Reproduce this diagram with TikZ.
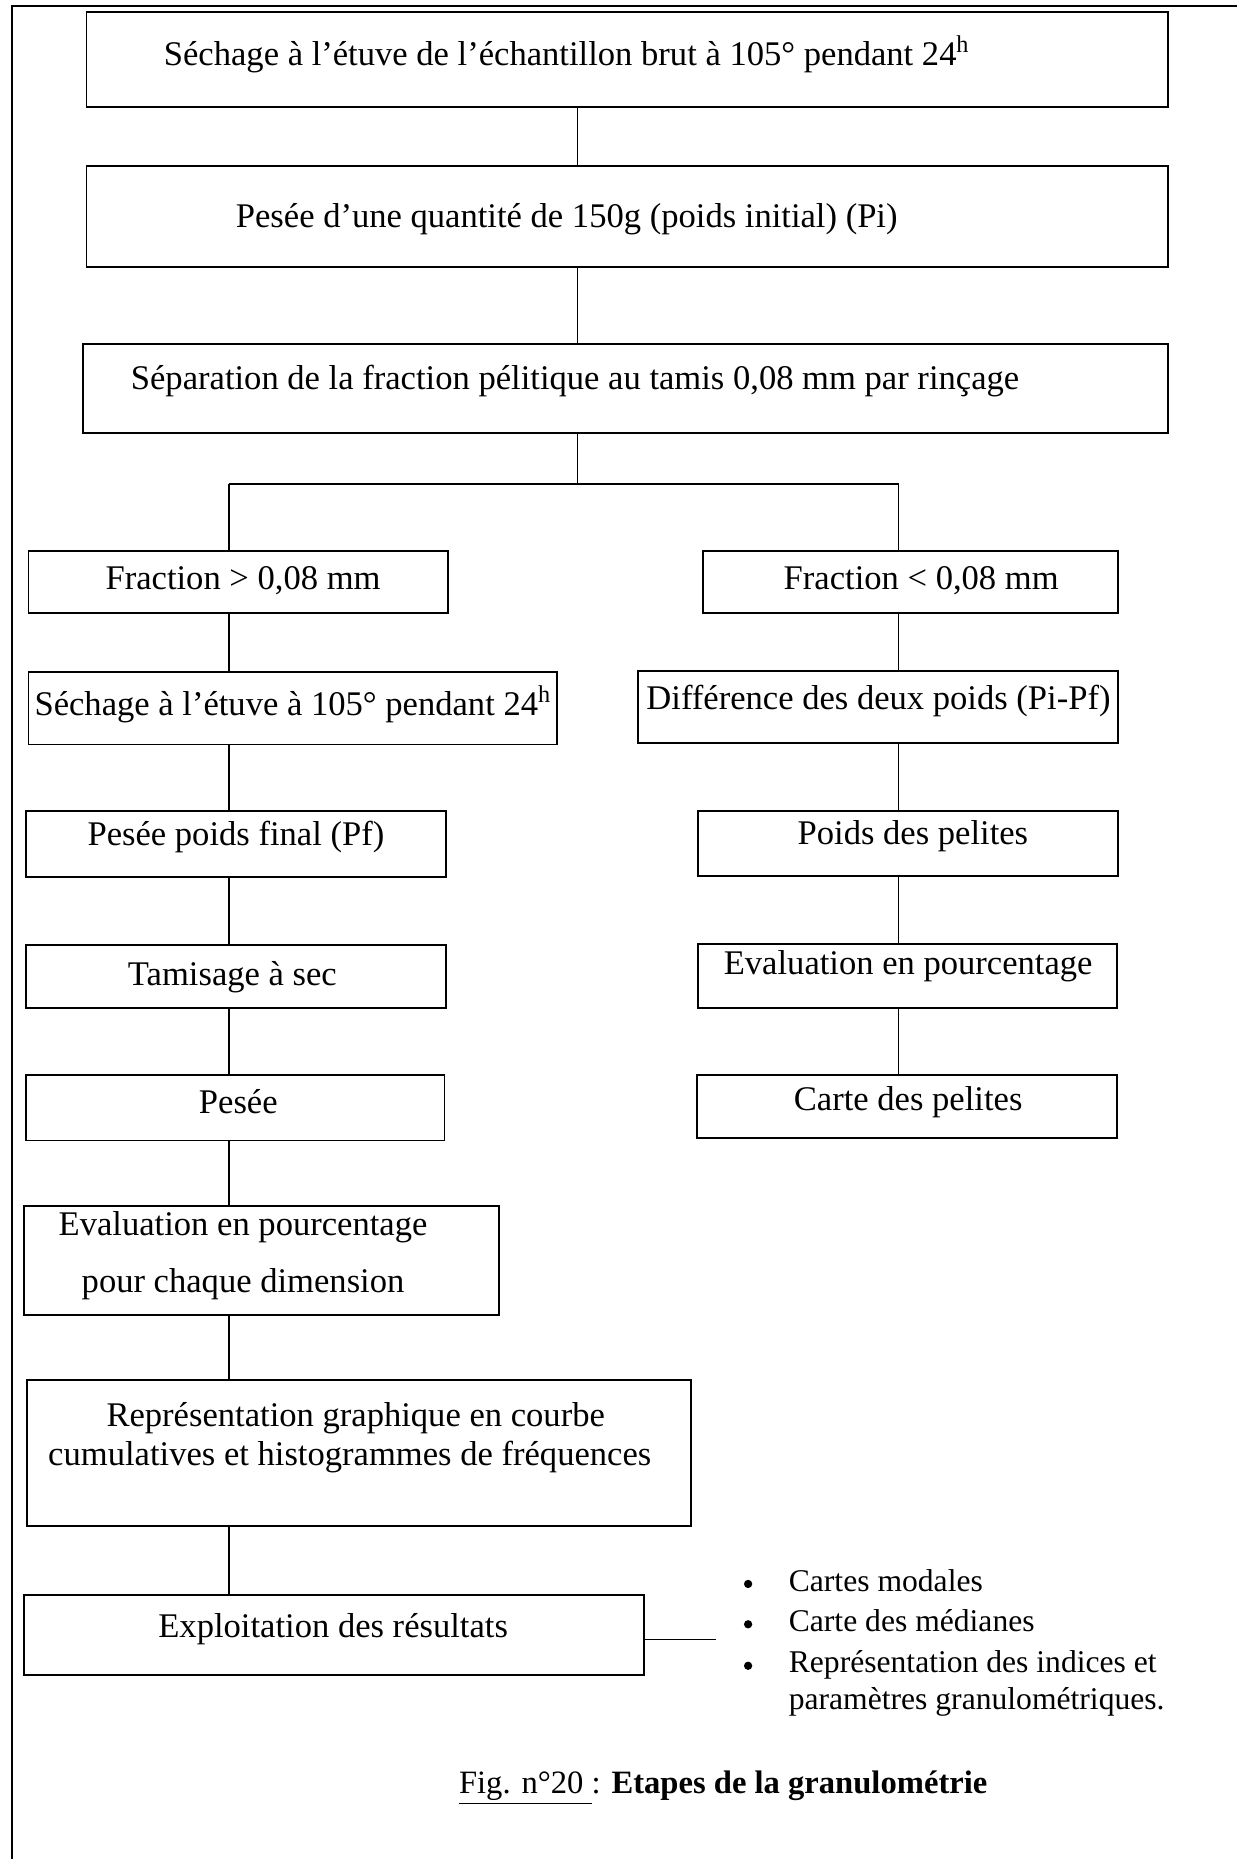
\documentclass[tikz,border=0pt]{standalone}
\usepackage{fontspec}
\setmainfont{Liberation Serif}
\tikzset{
  box/.style={draw, line width=0.9pt, rectangle, inner sep=0pt},
  txt/.style={font=\fontsize{17.5}{21}\selectfont, inner sep=0pt, align=center},
  bul/.style={font=\fontsize{16}{19.5}\selectfont, inner sep=0pt, anchor=base west},
  dotbul/.style={circle, fill, inner sep=0pt, minimum size=4.2pt},
  link/.style={line width=0.8pt},
  frame/.style={line width=0.9pt}
}
\newcommand\mybox[5]{%
  \pgfmathsetmacro\bw{(#4-#2)*0.6}%
  \pgfmathsetmacro\bh{(#5-#3)*0.6}%
  \node[box, minimum width=\bw pt, minimum height=\bh pt] (#1) at ({(#2+#4)/2},{(#3+#5)/2}) {};}
\begin{document}
\begin{tikzpicture}[x=0.6pt,y=-0.6pt]
\useasboundingbox (0,0) rectangle (1043,1568);
% page frame
\coordinate (fTL) at (10,5);
\coordinate (fTR) at (1043,5);
\coordinate (fBL) at (10,1568);
\draw[frame] (fBL) -- (fTL) -- (fTR);
% main column
\mybox{b1}{73}{10}{985}{90}
\node[txt] (t1) at (478,46) {Séchage à l’étuve de l’échantillon brut à 105° pendant 24\textsuperscript{h}};
\mybox{b2}{73}{140}{985}{225}
\node[txt] (t2) at (478,185) {Pesée d’une quantité de 150g (poids initial) (Pi)};
\mybox{b3}{70}{290}{985}{365}
\node[txt] (t3) at (485,321) {Séparation de la fraction pélitique au tamis 0,08 mm par rinçage};
% left column
\mybox{L1}{24}{465}{378}{517}
\node[txt] (tL1) at (205,490) {Fraction > 0,08 mm};
\mybox{L2}{24}{567}{470}{628}
\node[txt] (tL2) at (247,594) {Séchage à l’étuve à 105° pendant 24\textsuperscript{h}};
\mybox{L3}{22}{684}{376}{740}
\node[txt] (tL3) at (199,706) {Pesée poids final (Pf)};
\mybox{L4}{22}{797}{376}{850}
\node[txt] (tL4) at (196,824) {Tamisage à sec};
\mybox{L5}{22}{907}{375}{962}
\node[txt] (tL5) at (201,929) {Pesée};
\mybox{L6}{20}{1017}{421}{1109}
\node[txt] (tL6a) at (205,1035) {Evaluation en pourcentage};
\node[txt] (tL6b) at (205,1083) {pour chaque dimension};
\mybox{L7}{23}{1164}{583}{1287}
\node[txt] (tL7a) at (300,1196) {Représentation graphique en courbe};
\node[txt] (tL7b) at (295,1229) {cumulatives et histogrammes de fréquences};
\mybox{L8}{20}{1345}{543}{1413}
\node[txt] (tL8) at (281,1374) {Exploitation des résultats};
% right column
\mybox{R1}{593}{465}{943}{517}
\node[txt] (tR1) at (777,490) {Fraction < 0,08 mm};
\mybox{R2}{538}{566}{943}{627}
\node[txt] (tR2) at (741,591) {Différence des deux poids (Pi-Pf)};
\mybox{R3}{589}{684}{943}{739}
\node[txt] (tR3) at (770,705) {Poids des pelites};
\mybox{R4}{589}{796}{942}{850}
\node[txt] (tR4) at (766,815) {Evaluation en pourcentage};
\mybox{R5}{588}{907}{942}{960}
\node[txt] (tR5) at (766,930) {Carte des pelites};
% connectors
\coordinate (cM) at (487,0);
\coordinate (cL) at (193,0);
\coordinate (cR) at (758,0);
\coordinate (split) at (487,408);
\coordinate (splitL) at (193,408);
\coordinate (splitR) at (758,408);
\draw[link] (b1.south -| cM) -- (b2.north -| cM);
\draw[link] (b2.south -| cM) -- (b3.north -| cM);
\draw[link] (b3.south -| cM) -- (split);
\draw[link] (splitL) -- (splitR);
\draw[link] (splitL) -- (L1.north -| cL);
\draw[link] (splitR) -- (R1.north -| cR);
\draw[link] (L1.south -| cL) -- (L2.north -| cL);
\draw[link] (L2.south -| cL) -- (L3.north -| cL);
\draw[link] (L3.south -| cL) -- (L4.north -| cL);
\draw[link] (L4.south -| cL) -- (L5.north -| cL);
\draw[link] (L5.south -| cL) -- (L6.north -| cL);
\draw[link] (L6.south -| cL) -- (L7.north -| cL);
\draw[link] (L7.south -| cL) -- (L8.north -| cL);
\draw[link] (R1.south -| cR) -- (R2.north -| cR);
\draw[link] (R2.south -| cR) -- (R3.north -| cR);
\draw[link] (R3.south -| cR) -- (R4.north -| cR);
\draw[link] (R4.south -| cR) -- (R5.north -| cR);
\coordinate (bEnd) at (604,1383);
\draw[link] (L8.east |- bEnd) -- (bEnd);
% bullet list
\node[dotbul] (k1) at (631,1336) {};
\node[bul] (i1) at (665,1342) {Cartes modales};
\node[dotbul] (k2) at (631,1370) {};
\node[bul] (i2) at (665,1376) {Carte des médianes};
\node[dotbul] (k3) at (631,1405) {};
\node[bul] (i3) at (665,1411) {Représentation des indices et};
\node[bul] (i3b) at (665,1442) {paramètres granulométriques.};
% caption
\node[txt, font=\fontsize{16.5}{20}\selectfont, anchor=base] (cap) at (610,1513) {\underline{Fig. n°20 }: \textbf{Etapes de la granulométrie}};
\end{tikzpicture}
\end{document}
